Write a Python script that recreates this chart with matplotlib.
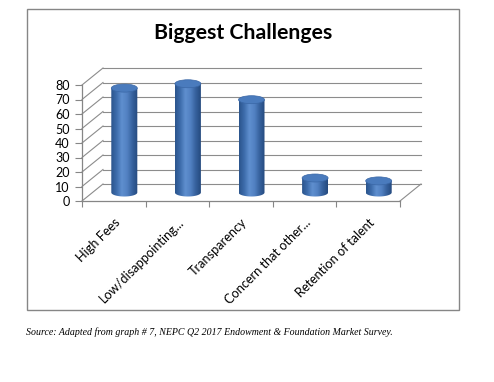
import numpy as np
import matplotlib
matplotlib.use("Agg")
import matplotlib.pyplot as plt
from matplotlib.patches import Ellipse, Rectangle, PathPatch
from matplotlib.path import Path
from matplotlib.colors import LinearSegmentedColormap

# data
categories = ["High Fees", "Low/disappointing...", "Transparency",
              "Concern that other...", "Retention of talent"]
values = [72, 75, 64, 10, 8]
yticks = list(range(0, 81, 10))

W, H = 494, 382
fig = plt.figure(figsize=(W / 100, H / 100), dpi=100)

# outer chart frame
fig.patches.append(Rectangle((27 / W, 1 - 310 / H), 432 / W, 301 / H,
                             transform=fig.transFigure, fill=False,
                             edgecolor="#868686", lw=1))
fig.text(243 / W, 1 - 33 / H, "Biggest Challenges", ha="center", va="center",
         fontsize=15.3, fontweight="bold", family="Lato")
fig.text(26 / W, 1 - 332 / H,
         "Source: Adapted from graph # 7, NEPC Q2 2017 Endowment & Foundation Market Survey.",
         ha="left", va="center", fontsize=7.1, style="italic", family="Liberation Serif")

# front plane: x -0.5..4.5 -> px 82..400, y 0..80 -> px 201..85
pxx = 318 / 5
pxy = 116 / 80
dx = 21 / pxx      # depth offset
dy = 17 / pxy
ax = fig.add_axes([82 / W, 1 - 201 / H, 341 / W, 133 / H])
ax.patch.set_visible(False)
for s in ["top", "right"]:
    ax.spines[s].set_visible(False)
for s in ["left", "bottom"]:
    ax.spines[s].set_color("#868686")
    ax.spines[s].set_linewidth(0.9)
ax.spines["left"].set_bounds(0, 80)
ax.spines["bottom"].set_bounds(-0.5, 4.5)

ax.set_yticks(yticks)
ax.set_yticklabels([str(v) for v in yticks], fontsize=9, family="Lato")
ax.tick_params(axis="y", length=5, color="#868686", pad=4)
n = len(categories)
ax.set_xticks(np.arange(-0.5, n, 1.0))
ax.set_xticklabels([])
ax.tick_params(axis="x", which="major", length=4, color="#868686")
ax.set_xticks(np.arange(n), minor=True)
ax.set_xticklabels(categories, minor=True, rotation=45, ha="right",
                   rotation_mode="anchor", fontsize=9.2, family="Lato")
ax.tick_params(axis="x", which="minor", length=0, pad=11)

grid_c = "#8c8c8c"
# back wall gridlines and side-wall diagonals
for v in yticks:
    ax.plot([-0.5 + dx, n - 0.5 + dx], [v + dy, v + dy], color=grid_c, lw=0.8, clip_on=False)
    ax.plot([-0.5, -0.5 + dx], [v, v + dy], color=grid_c, lw=0.8, clip_on=False)
# floor right edge
ax.plot([n - 0.5, n - 0.5 + dx], [0, dy], color=grid_c, lw=0.8, clip_on=False)

# cylinders
cmap = LinearSegmentedColormap.from_list(
    "cyl", ["#2b548c", "#3d6cab", "#5f8fcf", "#5281c2", "#36619d", "#254a7e"])
bw = 26 / pxx
eh = 8 / pxy
grad = np.linspace(0, 1, 200).reshape(1, -1)
t = np.linspace(np.pi, 2 * np.pi, 60)
for i, v in enumerate(values):
    cx = i + dx / 2
    base = dy / 2
    top = base + v
    xs = cx + bw / 2 * np.cos(t)
    ys = base + eh / 2 * np.sin(t)
    verts = [(cx - bw / 2, top)] + list(zip(xs, ys)) + [(cx + bw / 2, top), (cx - bw / 2, top)]
    body = PathPatch(Path(verts), facecolor="none", edgecolor="none")
    ax.add_patch(body)
    im = ax.imshow(grad, cmap=cmap, aspect="auto",
                   extent=(cx - bw / 2, cx + bw / 2, base - eh, top + eh),
                   zorder=3, interpolation="bilinear")
    im.set_clip_path(body)
    ax.add_patch(Ellipse((cx, top), bw, eh, facecolor="#4a7bbd",
                         edgecolor="#3a67a6", lw=0.5, zorder=4))

ax.set_xlim(-0.5, -0.5 + 341 / pxx)
ax.set_ylim(0, 133 / pxy)

fig.savefig("out.png", dpi=100)
